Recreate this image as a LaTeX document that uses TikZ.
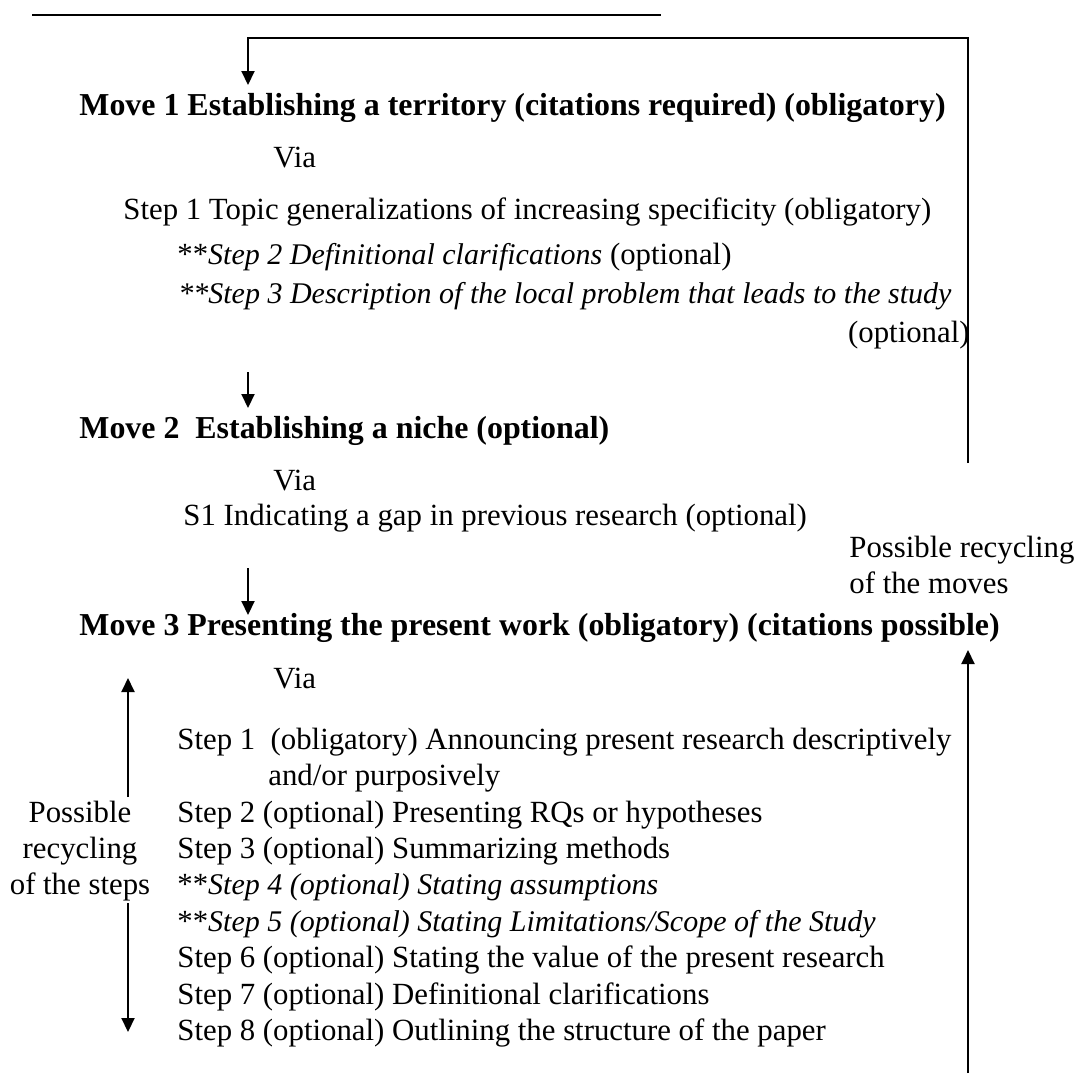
\documentclass[tikz,border=0pt]{standalone}
\usepackage{fontspec}
\setmainfont{Liberation Serif}
\usepackage{tikz}
\usetikzlibrary{arrows.meta}

\newcommand{\itx}[1]{{\fontsize{15pt}{18pt}\selectfont\itshape #1}}
\tikzset{
  txt/.style={anchor=base west, inner sep=0pt, font=\fontsize{15.4pt}{18pt}\selectfont},
  movetxt/.style={txt, font=\fontsize{15.95pt}{18pt}\selectfont\bfseries},
  arr/.style={line width=1pt, -{Triangle[length=7pt,width=6.5pt]}},
  ln/.style={line width=1pt}
}

\begin{document}
\begin{tikzpicture}[x=0.5pt,y=-0.5pt]
\useasboundingbox (0,0) rectangle (1075,1073);
\draw[ln] (32,15) -- (661,15);

% move 1
\node[movetxt] (m1) at (79,115) {Move 1 Establishing a territory (citations required) (obligatory)};
\node[txt] (via1) at (273,167) {Via};
\node[txt] (a1) at (123,219) {Step 1 Topic generalizations of increasing specificity (obligatory)};
\node[txt] (a2) at (177,264) {**\itx{Step 2 Definitional clarifications} (optional)};
\node[txt] (a3) at (178,303) {\itx{**Step 3 Description of the local problem that leads to the study}};
\node[txt, anchor=base east] (a3opt) at (970,342) {(optional)};

% move 2
\node[movetxt] (m2) at (79,438) {Move 2\ \ Establishing a niche (optional)};
\node[txt] (via2) at (273,490) {Via};
\node[txt] (b1) at (183,525) {S1 Indicating a gap in previous research (optional)};
\node[txt, align=left] (recmoves) at (849,593) {Possible recycling\\of the moves};

% move 3
\node[movetxt] (m3) at (79,635) {Move 3 Presenting the present work (obligatory) (citations possible)};
\node[txt] (via3) at (273,688) {Via};
\node[txt] (c1) at (177,749) {Step 1\ \ (obligatory) Announcing present research descriptively};
\node[txt] (c1b) at (268,785) {and/or purposively};
\node[txt] (c2) at (177,822) {Step 2 (optional) Presenting RQs or hypotheses};
\node[txt] (c3) at (177,858) {Step 3 (optional) Summarizing methods};
\node[txt] (c4) at (177,894) {**\itx{Step 4 (optional) Stating assumptions}};
\node[txt] (c5) at (177,931) {**\itx{Step 5 (optional) Stating Limitations/Scope of the Study}};
\node[txt] (c6) at (177,967) {Step 6 (optional) Stating the value of the present research};
\node[txt] (c7) at (177,1004) {Step 7 (optional) Definitional clarifications};
\node[txt] (c8) at (177,1040) {Step 8 (optional) Outlining the structure of the paper};
\node[txt, anchor=base, align=center] (recsteps) at (80,894) {Possible\\recycling\\of the steps};

% connectors
\coordinate (loopstart) at (968,463);
\coordinate (m1in) at (248,85);
\draw[arr] (loopstart) |- (248,38) -- (m1in);
\coordinate (m2from) at (248,372);
\coordinate (m2in) at (248,408);
\draw[arr] (m2from) -- (m2in);
\coordinate (m3from) at (248,568);
\coordinate (m3in) at (248,615);
\draw[arr] (m3from) -- (m3in);
\coordinate (movesfrom) at (968,1073);
\coordinate (movesto) at (968,650);
\draw[arr] (movesfrom) -- (movesto);
\coordinate (upfrom) at (128,797);
\coordinate (stepsup) at (128,678);
\coordinate (downfrom) at (128,903);
\coordinate (stepsdown) at (128,1032);
\draw[arr] (upfrom) -- (stepsup);
\draw[arr] (downfrom) -- (stepsdown);
\end{tikzpicture}
\end{document}
